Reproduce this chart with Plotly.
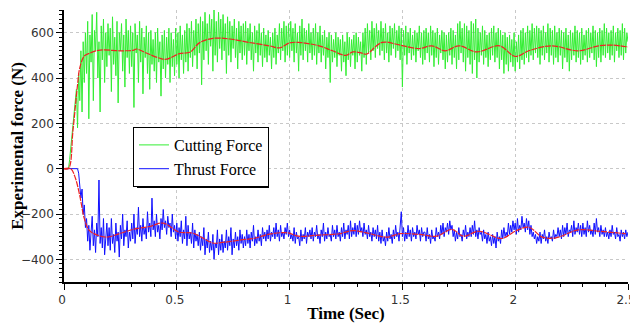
import plotly.graph_objects as go

t_step = 0.005
cutting = [
    0, 0, 0, 0, 0, 40, 90, 140, 190, 240, 300, 350, 180, 420, 300, 520, 250, 560, 380, 600,
    420, 650, 220, 590, 470, 680, 300, 610, 520, 690, 400, 560, 250, 630, 480, 660, 380, 600, 450, 640,
    500, 620, 340, 670, 460, 580, 410, 650, 290, 600, 520, 640, 430, 590, 360, 660, 490, 610, 420, 630,
    450, 600, 270, 640, 510, 590, 380, 650, 470, 620, 330, 580, 490, 630, 420, 600, 350, 610, 460, 570,
    430, 600, 380, 620, 470, 560, 320, 590, 440, 610, 400, 580, 460, 620, 380, 600, 450, 570, 410, 620,
    460, 600, 400, 630, 480, 590, 420, 610, 470, 640, 430, 620, 490, 650, 450, 610, 500, 660, 440, 640,
    510, 670, 370, 650, 480, 690, 520, 640, 460, 680, 540, 660, 430, 700, 500, 650, 470, 690, 530, 660,
    480, 680, 520, 640, 420, 670, 500, 650, 470, 630, 530, 660, 490, 620, 440, 650, 510, 630, 480, 640,
    500, 650, 460, 620, 520, 640, 480, 600, 430, 630, 510, 610, 470, 640, 500, 600, 450, 620, 490, 590,
    470, 610, 500, 580, 440, 600, 490, 620, 460, 590, 510, 640, 480, 620, 520, 650, 470, 630, 500, 640,
    490, 650, 520, 620, 470, 640, 510, 600, 430, 630, 500, 660, 480, 620, 520, 610, 470, 640, 510, 600,
    480, 620, 500, 640, 460, 600, 510, 630, 470, 590, 500, 610, 440, 580, 490, 600, 380, 590, 470, 570,
    490, 600, 450, 580, 500, 570, 430, 590, 470, 560, 410, 600, 480, 580, 450, 570, 500, 590, 440, 600,
    470, 580, 500, 560, 430, 600, 490, 620, 460, 640, 510, 610, 480, 650, 520, 620, 490, 640, 530, 610,
    500, 650, 520, 620, 480, 640, 510, 600, 470, 630, 500, 620, 530, 640, 490, 610, 520, 630, 480, 620,
    360, 610, 500, 630, 460, 600, 510, 620, 480, 590, 500, 610, 470, 600, 520, 630, 490, 600, 460, 610,
    480, 620, 510, 600, 470, 630, 500, 610, 450, 600, 490, 620, 460, 590, 510, 610, 480, 600, 440, 590,
    470, 600, 500, 620, 460, 610, 490, 590, 440, 640, 480, 650, 510, 620, 470, 640, 430, 630, 490, 610,
    460, 650, 420, 640, 480, 660, 400, 620, 470, 600, 500, 630, 460, 610, 490, 590, 450, 600, 480, 620,
    500, 630, 470, 600, 490, 620, 440, 610, 480, 590, 420, 600, 460, 580, 430, 590, 470, 570, 450, 600,
    430, 560, 470, 590, 440, 610, 480, 620, 460, 600, 490, 630, 470, 610, 500, 640, 480, 620, 510, 630,
    490, 620, 460, 610, 500, 630, 480, 600, 510, 640, 470, 620, 500, 610, 460, 630, 490, 600, 470, 620,
    500, 610, 440, 600, 490, 620, 470, 590, 430, 610, 480, 600, 500, 630, 470, 610, 490, 600, 460, 620,
    480, 590, 500, 610, 470, 620, 490, 600, 510, 630, 480, 610, 450, 600, 490, 620, 470, 610, 500, 640,
    490, 620, 510, 600, 480, 610, 500, 630, 470, 600, 520, 620, 490, 610, 500, 640, 480, 620, 510, 600,
    560,
]
thrust = [
    0, 0, 0, 0, 0, 0, 0, 0, 0, 0, 0, 0, 0, -20, -70, -130, -90, -200, -160, -260,
    -220, -320, -250, -360, -280, -210, -340, -270, -370, -240, -300, -50, -330, -260, -350, -220, -380, -290, -240, -340,
    -260, -360, -220, -330, -290, -370, -240, -320, -280, -390, -250, -310, -200, -340, -270, -300, -230, -350, -280, -320,
    -240, -310, -200, -330, -260, -290, -170, -300, -250, -320, -220, -290, -260, -310, -190, -280, -240, -300, -130, -270,
    -230, -300, -200, -280, -250, -310, -220, -270, -180, -260, -230, -290, -210, -260, -240, -300, -200, -280, -250, -310,
    -240, -320, -260, -300, -230, -330, -270, -310, -210, -340, -250, -310, -280, -330, -240, -350, -270, -320, -290, -340,
    -280, -360, -300, -340, -260, -380, -310, -350, -280, -370, -320, -360, -290, -400, -330, -350, -270, -380, -310, -360,
    -290, -370, -320, -350, -270, -360, -300, -340, -260, -380, -310, -350, -280, -340, -300, -360, -270, -330, -290, -350,
    -300, -340, -270, -330, -290, -350, -280, -320, -250, -340, -300, -330, -270, -320, -290, -340, -260, -310, -280, -320,
    -270, -310, -250, -320, -280, -300, -260, -310, -240, -300, -270, -320, -250, -300, -280, -310, -260, -290, -240, -300,
    -270, -310, -290, -320, -260, -330, -280, -310, -300, -340, -270, -320, -290, -310, -260, -330, -280, -300, -270, -310,
    -260, -320, -280, -300, -250, -310, -290, -330, -270, -300, -240, -320, -280, -310, -260, -300, -290, -320, -250, -300,
    -270, -310, -250, -300, -280, -320, -260, -300, -240, -310, -270, -290, -250, -310, -230, -300, -260, -290, -240, -300,
    -250, -290, -230, -280, -260, -300, -240, -290, -270, -310, -250, -300, -280, -320, -260, -300, -270, -310, -250, -320,
    -280, -330, -270, -320, -300, -340, -280, -320, -260, -310, -290, -330, -270, -310, -250, -300, -280, -320, -270, -190,
    -300, -260, -320, -280, -310, -250, -300, -270, -320, -260, -300, -280, -310, -250, -290, -270, -320, -260, -300, -280,
    -280, -320, -260, -310, -290, -330, -270, -310, -300, -320, -260, -300, -280, -310, -250, -290, -240, -300, -260, -280,
    -240, -290, -230, -270, -250, -300, -270, -320, -280, -310, -260, -300, -290, -320, -270, -300, -250, -310, -280, -300,
    -260, -300, -250, -290, -230, -300, -270, -310, -260, -290, -280, -320, -270, -310, -290, -330, -280, -320, -300, -340,
    -290, -330, -300, -350, -280, -320, -300, -330, -270, -310, -260, -300, -280, -300, -240, -290, -250, -280, -230, -270,
    -240, -290, -220, -280, -250, -270, -210, -260, -240, -280, -220, -270, -230, -290, -250, -300, -280, -310, -290, -330,
    -300, -320, -280, -330, -290, -310, -270, -320, -300, -330, -280, -310, -300, -320, -270, -310, -290, -300, -260, -300,
    -270, -310, -250, -300, -260, -290, -240, -300, -270, -280, -250, -300, -230, -290, -260, -280, -240, -290, -250, -300,
    -240, -290, -260, -300, -230, -280, -250, -290, -270, -300, -240, -290, -220, -280, -260, -300, -250, -290, -270, -300,
    -260, -300, -280, -310, -270, -300, -250, -290, -280, -310, -260, -300, -290, -320, -270, -300, -280, -310, -270, -300,
    -280,
]
time = [round(i * t_step, 3) for i in range(len(cutting))]

cut_fit_t = [0, 0.02, 0.04, 0.06, 0.07, 0.09, 0.115, 0.16, 0.25, 0.31, 0.32, 0.37, 0.425,
             0.455, 0.51, 0.56, 0.60, 0.66, 0.735, 0.82, 0.91, 0.956, 1.0, 1.04, 1.13,
             1.19, 1.25, 1.28, 1.32, 1.34, 1.41, 1.49, 1.575, 1.63, 1.69, 1.75, 1.83,
             1.93, 2.0, 2.06, 2.16, 2.28, 2.37, 2.43, 2.5]
cut_fit = [0, 0, 170, 370, 445, 497, 510, 523, 520, 523, 528, 508, 487,
           483, 507, 515, 555, 575, 572, 557, 542, 533, 555, 557, 542,
           520, 500, 515, 510, 505, 557, 545, 530, 542, 520, 542, 515,
           542, 495, 520, 542, 520, 542, 545, 537]
thr_fit_t = [0, 0.03, 0.05, 0.07, 0.09, 0.11, 0.14, 0.19, 0.25, 0.31, 0.38, 0.44, 0.51,
             0.57, 0.66, 0.69, 0.78, 0.85, 0.91, 0.99, 1.04, 1.13, 1.22, 1.28, 1.34,
             1.43, 1.49, 1.575, 1.65, 1.72, 1.77, 1.84, 1.94, 2.0, 2.06, 2.12, 2.18,
             2.28, 2.37, 2.49]
thr_fit = [0, 0, -40, -120, -220, -270, -290, -302, -285, -267, -255, -240, -280,
           -284, -328, -327, -315, -306, -289, -283, -298, -293, -287, -273, -283,
           -302, -287, -290, -298, -268, -298, -276, -308, -276, -258, -302, -305,
           -270, -276, -287]

x_ticks = [0, 0.5, 1, 1.5, 2, 2.5]
x_tick_labels = ["0", "0.5", "1", "1.5", "2", "2.5"]
y_ticks = [-400, -200, 0, 200, 400, 600]

fig = go.Figure()
fig.add_trace(go.Scatter(x=time, y=cutting, mode="lines", name="Cutting Force",
                         line=dict(color="#33ee33", width=1)))
fig.add_trace(go.Scatter(x=time, y=thrust, mode="lines", name="Thrust Force",
                         line=dict(color="#1010ff", width=1)))
fig.add_trace(go.Scatter(x=cut_fit_t, y=cut_fit, mode="lines", showlegend=False,
                         line=dict(color="#ee2222", width=1.2, shape="spline", dash="6px,1px")))
fig.add_trace(go.Scatter(x=thr_fit_t, y=thr_fit, mode="lines", showlegend=False,
                         line=dict(color="#ee2222", width=1.2, shape="spline", dash="6px,1px")))

# page body has an 8px margin; plot area in screen pixels: x 64..628, y 10..282
PX0, PX1, PY0, PY1 = 64, 628, 10, 282
def px(x):
    return (x - PX0) / (PX1 - PX0)
def py(y):
    return (PY1 - y) / (PY1 - PY0)

LEG_L, LEG_T, LEG_W, LEG_H = 133, 127, 133, 58
fig.add_shape(type="rect", xref="paper", yref="paper",
              x0=px(LEG_L + 4), x1=px(LEG_L + LEG_W + 3),
              y0=py(LEG_T + LEG_H + 3), y1=py(LEG_T + 4),
              fillcolor="black", line=dict(width=0), layer="above")

tickfont = dict(family="DejaVu Sans", size=12, color="#333")
fig.update_layout(
    width=630, height=315,
    margin=dict(l=PX0 - 8, r=630 - (PX1 - 8), t=PY0 - 8, b=315 - (PY1 - 8)),
    plot_bgcolor="white", paper_bgcolor="white",
    showlegend=True,
    legend=dict(x=px(LEG_L), y=py(LEG_T), xanchor="left", yanchor="top",
                bgcolor="white", bordercolor="black", borderwidth=1,
                font=dict(family="Liberation Serif", size=16, color="black"),
                itemwidth=30, tracegroupgap=0),
    xaxis=dict(range=[0, 2.5], tickvals=x_ticks, ticktext=x_tick_labels, automargin=False,
               showline=True, linecolor="black", linewidth=1.5,
               ticks="outside", ticklen=6, tickcolor="black", ticklabelshift=-2,
               minor=dict(dtick=0.1, ticks="outside", ticklen=3, tickcolor="black", showgrid=False),
               showgrid=True, gridcolor="#c8c8c8", griddash="dot", gridwidth=1,
               zeroline=False, tickfont=tickfont,
               title=dict(text="<b>Time (Sec)</b>", standoff=4,
                          font=dict(family="Liberation Serif", size=17, color="black"))),
    yaxis=dict(range=[-500, 700], tickvals=y_ticks, automargin=False,
               showline=True, linecolor="black", linewidth=1.5,
               ticks="outside", ticklen=6, tickcolor="black",
               minor=dict(dtick=20, ticks="outside", ticklen=3, tickcolor="black", showgrid=False),
               showgrid=True, gridcolor="#c8c8c8", griddash="dot", gridwidth=1,
               zeroline=False, tickfont=tickfont,
               title=dict(text="<b>Experimental force (N)</b>", standoff=4,
                          font=dict(family="Liberation Serif", size=17, color="black"))),
)
fig.write_html("out.html")
